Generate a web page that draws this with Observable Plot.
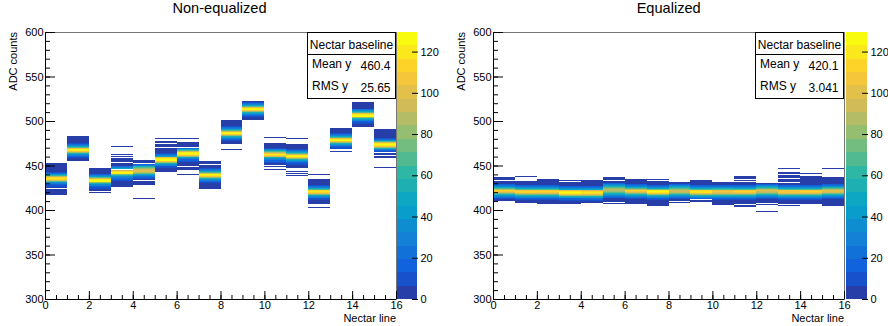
<!DOCTYPE html>
<html><head><meta charset="utf-8">
<script src="https://cdn.jsdelivr.net/npm/d3@7"></script>
<script src="https://cdn.jsdelivr.net/npm/@observablehq/plot@0.6"></script>
<style>
html,body{margin:0;padding:0;background:#fff;}
#chart{position:relative;width:888px;height:326px;overflow:hidden;}
#chart svg{position:absolute;top:0;}
</style></head><body><div id="chart"></div>
<script>
// ---------------- DATA ----------------
const titles = ["Non-equalized", "Equalized"];
const yLabel = "ADC counts";
const xLabel = "Nectar line";
const statsName = "Nectar baseline";
const statsMean = ["460.4", "420.1"];
const statsRMS = ["25.65", "3.041"];

const nLines = 16;           // Nectar lines (x bins)
const zMax = 129.5;          // colour-bar maximum
const nLevels = 20;          // colour contour levels
const tailCount = 3;         // counts in the flat dark-blue tails of every block
const yMajor = [300, 350, 400, 450, 500, 550, 600];
const xMajor = [0, 2, 4, 6, 8, 10, 12, 14, 16];
const zTicks = [0, 20, 40, 60, 80, 100, 120];

// Non-equalized: occupied ADC range per line, peak bin, empty bins, isolated bins
const nonEqLo   = [417,455,421,426,428,443,445,424,474,501,448,447,407,468,493,458];
const nonEqHi   = [452,482,446,457,455,476,475,454,500,522,474,473,434,491,520,490];
const nonEqPeak = [434,466,432,441,443,455,462,438,485,512,461,459,419,477,505,472];
const nonEqGaps = [[424],[],[],[453,445],[452,433],[474,470],[470,448],[451],[],[],[450],[],[],[],[],[486,464,461]];
const nonEqLines = [[],[],[419],[471,462,460],[412],[480],[480,439],[],[504,467],[],[481,445],[480,443,441,438],[439,402],[465],[],[447]];
// counts in the 17 bins around each peak (peak-8 ... peak+8)
const nonEqProfile = [
  [8,12,18,26,36,50,70,96,116,122,112,90,64,44,30,20,12],
  [8,12,18,26,38,54,78,104,122,128,120,98,70,48,32,20,12],
  [8,12,18,27,38,54,78,106,124,127,118,94,66,45,30,19,11],
  [9,13,20,28,38,52,74,100,118,124,116,94,68,47,32,21,12],
  [12,16,24,34,46,60,76,90,98,100,94,84,68,52,38,26,16],
  [8,12,18,26,38,54,80,108,124,128,120,98,70,48,32,20,12],
  [9,13,19,27,39,55,78,104,121,125,118,96,70,48,33,21,12],
  [8,12,18,26,38,54,78,106,123,127,118,95,67,46,31,20,11],
  [8,12,18,27,39,55,80,107,124,128,120,97,69,47,32,20,12],
  [8,12,18,27,40,57,82,110,126,129,122,99,70,48,32,20,12],
  [9,13,19,28,38,52,72,96,114,118,110,90,66,46,32,21,12],
  [8,12,18,27,39,55,79,105,122,126,118,96,69,48,33,21,12],
  [8,12,18,26,36,50,72,98,116,120,112,92,66,46,31,20,11],
  [8,12,18,27,39,56,80,108,124,128,120,98,70,48,32,20,12],
  [8,12,18,27,40,56,80,108,125,128,121,99,71,49,33,21,12],
  [8,12,18,27,39,55,78,104,121,125,117,95,69,48,33,21,12]
];

// Equalized
const eqLo   = [410,408,407,407,408,407,407,405,410,409,406,404,406,404,407,404];
const eqHi   = [436,432,434,430,433,436,434,434,430,433,431,437,429,442,437,436];
const eqPeak = [420,419,419,418,418,421,420,419,420,419,419,419,420,419,419,420];
const eqGaps = [[433],[],[431],[],[],[433,408],[431],[433],[],[411],[],[434,432,406],[407],[439,435,430,406],[431],[]];
const eqLines = [[],[437,404],[],[433,404],[404],[],[440],[],[440,408],[],[],[440,403],[398],[446],[441,395],[446]];
const eqProfile = [
  [10,14,20,28,40,56,76,96,110,113,106,90,70,50,35,23,14],
  [10,14,20,28,40,56,77,97,111,114,107,91,70,50,35,23,14],
  [10,14,20,28,40,56,76,96,110,112,106,90,70,50,35,23,14],
  [9,13,19,27,39,56,80,106,122,127,120,98,72,50,34,22,13],
  [10,14,20,28,40,57,79,101,115,118,111,94,72,51,35,23,14],
  [12,17,24,33,44,56,68,80,87,89,86,78,66,54,42,30,19],
  [10,14,20,28,40,56,76,96,110,112,106,90,70,50,35,23,14],
  [9,13,19,27,39,56,79,104,120,124,118,97,72,50,34,22,13],
  [11,16,23,32,44,58,73,87,95,97,93,84,70,55,40,28,17],
  [9,13,19,27,39,56,78,102,118,122,116,96,71,50,34,22,13],
  [11,15,22,31,43,58,76,92,102,105,100,88,70,52,37,25,15],
  [10,14,20,28,40,56,76,96,110,112,106,90,70,50,35,23,14],
  [11,16,23,32,44,58,74,88,97,99,95,85,70,54,40,27,16],
  [10,14,20,28,40,56,75,94,107,110,104,89,69,50,35,23,14],
  [10,14,20,28,40,56,76,96,110,112,106,90,70,50,35,23,14],
  [11,15,22,31,43,58,75,91,101,103,98,87,70,52,37,25,15]
];

// ---------------- build histogram cells ----------------
function buildCells(lo, hi, peak, profile, gaps, lines) {
  const cells = [];
  for (let i = 0; i < nLines; i++) {
    const m = new Map();
    for (let v = lo[i]; v <= hi[i]; v++) m.set(v, tailCount);
    lines[i].forEach(v => m.set(v, tailCount));
    const half = (profile[i].length - 1) / 2;
    profile[i].forEach((c, k) => m.set(peak[i] - half + k, c));
    gaps[i].forEach(v => m.delete(v));
    for (const [v, c] of m) cells.push({line: i, adc: v, count: c});
  }
  return cells;
}
const nonEqCells = buildCells(nonEqLo, nonEqHi, nonEqPeak, nonEqProfile, nonEqGaps, nonEqLines);
const eqCells = buildCells(eqLo, eqHi, eqPeak, eqProfile, eqGaps, eqLines);

// ---------------- ROOT kBird palette ----------------
const birdStops = [0, .125, .25, .375, .5, .625, .75, .875, 1];
const birdR = [0.2082, 0.0592, 0.0780, 0.0232, 0.1802, 0.5301, 0.8186, 0.9956, 0.9764];
const birdG = [0.1664, 0.3599, 0.5041, 0.6419, 0.7178, 0.7492, 0.7328, 0.7862, 0.9832];
const birdB = [0.5293, 0.8684, 0.8385, 0.7914, 0.6425, 0.4662, 0.3499, 0.1968, 0.0539];
function bird(t) {
  t = Math.max(0, Math.min(1, t));
  let j = 0;
  while (j < birdStops.length - 2 && t > birdStops[j + 1]) j++;
  const f = (t - birdStops[j]) / (birdStops[j + 1] - birdStops[j]);
  const c = a => Math.round(255 * (a[j] + f * (a[j + 1] - a[j])));
  return d3.rgb(c(birdR), c(birdG), c(birdB)).formatHex();
}
const levelColors = d3.range(nLevels).map(k => bird(Math.floor((k + 0.99) * 255 / nLevels) / 254));
const thresholds = d3.range(1, nLevels).map(k => k * zMax / nLevels);
const colorScale = {type: "threshold", domain: thresholds, range: levelColors};

// ---------------- layout ----------------
const FONT = "'Liberation Sans', Arial, Helvetica, sans-serif";
const W = 888, H = 326, PW = 444, MT = 32, MB = 27;
const panels = [
  {off: 0,   frameL: 45,  frameR: 396, cbL: 397, cbR: 417, cells: nonEqCells},
  {off: 444, frameL: 493, frameR: 844, cbL: 846, cbR: 867, cells: eqCells}
];
const chart = document.getElementById("chart");
const yMinor = d3.range(300, 601, 10);
const xMinor = d3.range(0, 16.01, 0.5);

panels.forEach((p, pi) => {
  const main = Plot.plot({
    width: PW, height: H,
    marginLeft: p.frameL - p.off, marginRight: p.off + PW - p.frameR,
    marginTop: MT, marginBottom: MB,
    x: {domain: [0, nLines]},
    y: {domain: [300, 600]},
    color: colorScale,
    style: {fontFamily: FONT, fontSize: "11px", color: "black", background: "transparent", overflow: "visible"},
    marks: [
      Plot.rect(p.cells, {x1: "line", x2: d => d.line + 1, y1: "adc", y2: d => d.adc + 1, fill: "count", shapeRendering: "crispEdges"}),
      Plot.frame({stroke: "#777"}),
      Plot.axisY({ticks: yMinor, tickSize: -5, tickFormat: () => "", label: null}),
      Plot.axisY({ticks: yMajor, tickSize: -10, tickFormat: () => "", label: null}),
      Plot.axisY({ticks: yMajor, tickSize: 0, tickPadding: 2, label: null}),
      Plot.axisX({ticks: xMinor, tickSize: -4, tickFormat: () => "", label: null}),
      Plot.axisX({ticks: xMajor, tickSize: -8, tickFormat: () => "", label: null}),
      Plot.axisX({ticks: xMajor, tickSize: 0, tickPadding: 2, label: null}),
      Plot.ruleX([0], {stroke: "black"}),
      Plot.ruleY([300], {stroke: "black"})
    ]
  });
  main.style.left = p.off + "px";
  chart.appendChild(main);

  const cbW = p.off + PW - p.cbL;
  const cb = Plot.plot({
    width: cbW, height: H,
    marginLeft: 0, marginRight: cbW - (p.cbR - p.cbL), marginTop: MT, marginBottom: MB,
    y: {domain: [0, zMax]},
    color: colorScale,
    style: {fontFamily: FONT, fontSize: "11px", color: "black", background: "transparent", overflow: "visible"},
    marks: [
      Plot.rect(d3.range(nLevels), {y1: k => k * zMax / nLevels, y2: k => (k + 1) * zMax / nLevels, fill: k => (k + 0.5) * zMax / nLevels, shapeRendering: "crispEdges"}),
      Plot.axisY({anchor: "right", ticks: zTicks, tickSize: -6, tickFormat: () => "", label: null}),
      Plot.axisY({anchor: "right", ticks: zTicks, tickSize: 0, tickPadding: 3, label: null})
    ]
  });
  cb.style.left = p.cbL + "px";
  chart.appendChild(cb);
});

// ---------------- overlay: titles, axis titles, stats boxes ----------------
const svg = d3.select(chart).append("svg")
  .attr("width", W).attr("height", H)
  .style("left", "0px")
  .style("font-family", FONT);

panels.forEach((p, pi) => {
  svg.append("text").attr("x", (p.off === 0 ? 219.5 : 668.7)).attr("y", 13)
    .attr("text-anchor", "middle").attr("font-size", 14.6).attr("fill", "black").text(titles[pi]);
  svg.append("text").attr("transform", `translate(${p.frameL - 28},${MT}) rotate(-90)`)
    .attr("text-anchor", "end").attr("font-size", 11).attr("fill", "black").text(yLabel);
  svg.append("text").attr("x", p.frameR).attr("y", 322)
    .attr("text-anchor", "end").attr("font-size", 11).attr("fill", "black").text(xLabel);

  const bx = p.frameR - 88.5, by = MT + 0.5, bw = 88, bh = 66;
  const g = svg.append("g");
  g.append("rect").attr("x", bx).attr("y", by).attr("width", bw).attr("height", bh)
    .attr("fill", "white").attr("stroke", "black").attr("stroke-width", 1);
  g.append("line").attr("x1", bx).attr("x2", bx + bw).attr("y1", by + 22).attr("y2", by + 22)
    .attr("stroke", "black").attr("stroke-width", 1);
  g.append("text").attr("x", bx + bw / 2).attr("y", by + 16).attr("text-anchor", "middle")
    .attr("font-size", 12).text(statsName);
  g.append("text").attr("x", bx + 4.5).attr("y", by + 35).attr("font-size", 12).text("Mean y");
  g.append("text").attr("x", bx + bw - 5).attr("y", by + 37).attr("text-anchor", "end").attr("font-size", 12).text(statsMean[pi]);
  g.append("text").attr("x", bx + 4.5).attr("y", by + 57).attr("font-size", 12).text("RMS y");
  g.append("text").attr("x", bx + bw - 5).attr("y", by + 59).attr("text-anchor", "end").attr("font-size", 12).text(statsRMS[pi]);
});
</script></body></html>
